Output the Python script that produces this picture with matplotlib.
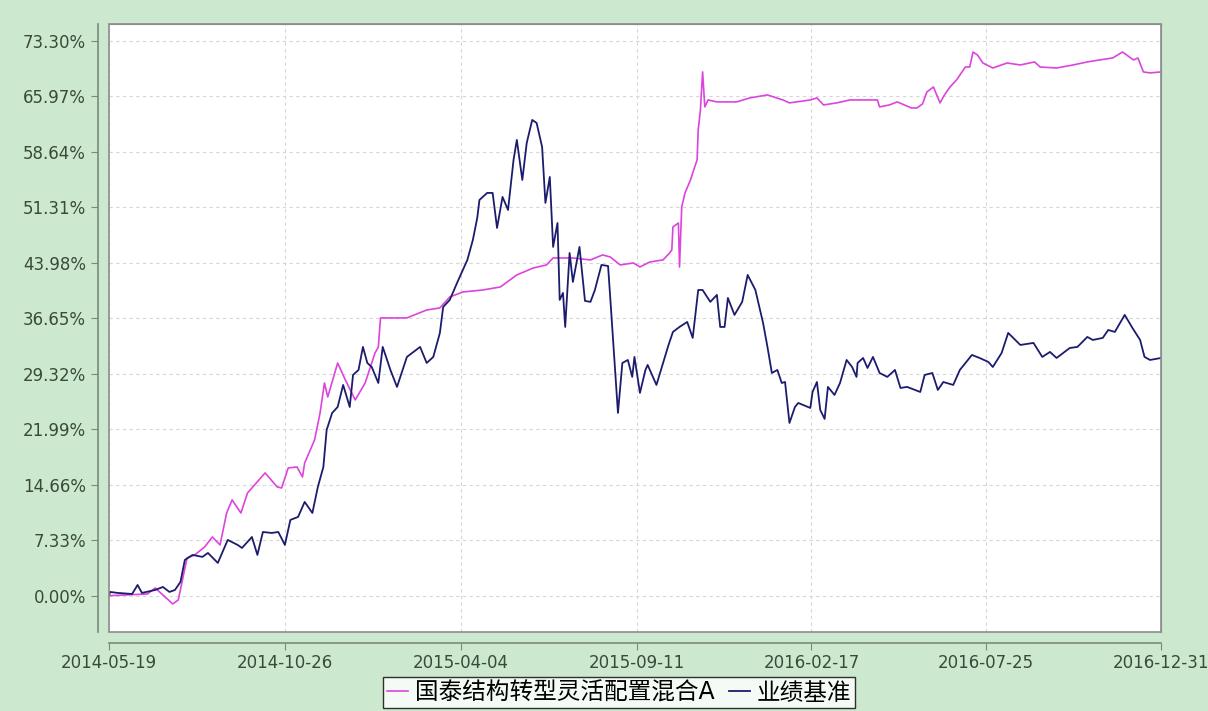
import numpy as np
import pandas as pd
import matplotlib
matplotlib.use('Agg')
import matplotlib.pyplot as plt
import matplotlib.dates as mdates
from matplotlib.patches import Rectangle

plt.rcParams['font.family'] = ['DejaVu Sans', 'Noto Sans CJK SC']

start = pd.Timestamp('2014-05-19')
end = pd.Timestamp('2016-12-31')

# days since 2014-05-19 and cumulative return (%)
fund_days = [0, 35, 42, 51, 58, 63, 71, 78, 87, 94, 101, 107, 112, 120, 126, 142, 153, 157,
             163, 171, 176, 178, 187, 192, 196, 199, 208, 215, 224, 233, 239, 242, 245, 247,
             253, 271, 289, 301, 310, 322, 340, 356, 371, 386, 398, 404, 422, 438, 449, 456,
             465, 477, 483, 492, 504, 510, 512, 513, 518, 519, 521, 524, 529, 531, 535, 536,
             538, 540, 542, 545, 553, 571, 583, 599, 613, 619, 638, 644, 650, 662, 674, 686,
             699, 701, 710, 717, 730, 735, 740, 744, 750, 756, 760, 765, 771, 779, 783, 786,
             790, 795, 804, 817, 829, 842, 847, 862, 877, 890, 901, 913, 922, 932, 936, 941,
             947, 957]
fund_vals = [0.0, 0.22, 1.02, -0.17, -1.09, -0.57, 4.98, 5.38, 6.43, 7.75, 6.70, 10.92, 12.64,
             10.92, 13.56, 16.21, 14.36, 14.22, 16.86, 17.00, 15.68, 17.53, 20.56, 24.13, 28.09,
             26.24, 30.73, 28.49, 25.85, 28.09, 30.73, 32.05, 32.85, 36.68, 36.68, 36.68, 37.73,
             38.00, 39.45, 40.11, 40.37, 40.77, 42.36, 43.28, 43.68, 44.60, 44.60, 44.34, 45.00,
             44.73, 43.68, 43.94, 43.41, 44.07, 44.34, 45.26, 45.66, 48.70, 49.22, 43.41, 51.34,
             53.19, 54.91, 55.83, 57.55, 61.51, 64.15, 69.17, 64.55, 65.47, 65.21, 65.21, 65.74,
             66.13, 65.47, 65.08, 65.47, 65.74, 64.81, 65.08, 65.47, 65.47, 65.47, 64.55, 64.81,
             65.21, 64.41, 64.41, 64.94, 66.52, 67.18, 65.08, 66.13, 67.18, 68.11, 69.82, 69.82,
             71.80, 71.41, 70.35, 69.69, 70.35, 70.09, 70.49, 69.82, 69.69, 70.09, 70.49, 70.75,
             71.01, 71.80, 70.75, 71.01, 69.17, 69.04, 69.17]

bench_days = [0, 1, 8, 21, 26, 30, 42, 49, 55, 60, 65, 69, 76, 85, 90, 99, 108, 117, 121, 130,
              135, 140, 148, 154, 160, 165, 172, 178, 185, 190, 195, 198, 203, 208, 213, 219,
              222, 227, 231, 235, 239, 245, 249, 256, 262, 271, 283, 289, 295, 301, 304, 310,
              317, 326, 331, 335, 337, 344, 349, 353, 358, 363, 368, 371, 376, 380, 385, 389,
              394, 397, 401, 404, 408, 410, 413, 415, 419, 422, 428, 433, 438, 442, 448, 454,
              456, 463, 467, 472, 476, 478, 483, 488, 490, 498, 509, 513, 519, 526, 531, 536,
              540, 547, 553, 556, 560, 563, 569, 576, 581, 588, 595, 599, 603, 608, 612, 615,
              619, 624, 627, 638, 640, 644, 647, 651, 654, 660, 665, 671, 676, 680, 681, 686,
              690, 695, 701, 708, 715, 720, 726, 738, 742, 749, 754, 759, 768, 774, 785, 792,
              800, 804, 812, 818, 829, 841, 849, 856, 862, 874, 881, 890, 895, 904, 909, 915,
              924, 931, 938, 942, 947, 957]
bench_vals = [0.0, 0.49, 0.36, 0.22, 1.41, 0.36, 0.75, 1.15, 0.49, 0.75, 1.81, 4.72, 5.38, 5.12,
              5.64, 4.32, 7.36, 6.70, 6.30, 7.75, 5.38, 8.41, 8.28, 8.41, 6.70, 10.00, 10.40,
              12.38, 10.92, 14.36, 17.00, 21.89, 24.13, 24.92, 27.83, 24.92, 29.15, 29.81, 32.85,
              30.73, 30.20, 28.09, 32.85, 29.81, 27.57, 31.53, 32.85, 30.73, 31.53, 34.70, 38.13,
              39.06, 41.43, 44.34, 46.98, 49.89, 52.26, 53.19, 53.19, 48.56, 52.66, 50.94, 57.54,
              60.19, 54.90, 59.79, 62.83, 62.43, 59.26, 51.87, 55.30, 46.06, 49.22, 39.06, 39.98,
              35.49, 45.26, 41.43, 46.06, 38.93, 38.80, 40.37, 43.68, 43.54, 39.32, 24.13, 30.73,
              31.13, 28.89, 31.53, 26.78, 29.81, 30.47, 27.83, 33.11, 34.83, 35.49, 36.15, 34.04,
              40.37, 40.37, 38.80, 39.72, 35.49, 35.49, 39.32, 37.08, 38.80, 42.36, 40.37, 36.02,
              32.85, 29.41, 29.81, 28.09, 28.22, 22.81, 24.92, 25.45, 24.79, 26.90, 28.22, 24.53,
              23.34, 27.57, 26.51, 28.09, 31.13, 30.20, 28.89, 30.73, 31.39, 30.07, 31.53, 29.41,
              28.89, 29.81, 27.43, 27.57, 26.90, 29.15, 29.41, 27.17, 28.22, 27.83, 29.81, 31.79,
              31.39, 30.86, 30.20, 32.05, 34.70, 33.11, 33.38, 31.53, 32.19, 31.39, 32.71, 32.85,
              34.17, 33.77, 34.04, 35.09, 34.83, 37.08, 35.36, 33.77, 31.53, 31.13, 31.39]

y_ticks = [0.00, 7.33, 14.66, 21.99, 29.32, 36.65, 43.98, 51.31, 58.64, 65.97, 73.30]
x_ticks = ['2014-05-19', '2014-10-26', '2015-04-04', '2015-09-11', '2016-02-17', '2016-07-25', '2016-12-31']

fund_names = ['国泰结构转型灵活配置混合A', '业绩基准']

bg = '#CCE8CF'
fund_x = start + pd.to_timedelta(fund_days, unit='D')
bench_x = start + pd.to_timedelta(bench_days, unit='D')

fig = plt.figure(figsize=(12.08, 7.11), dpi=100, facecolor=bg)
ax = fig.add_axes([109/1208, 1-632/711, (1161-109)/1208, (632-24)/711])
ax.set_facecolor('white')

ax.plot(fund_x, fund_vals, color='#DD44DD', lw=1.2, label=fund_names[0])
ax.plot(bench_x, bench_vals, color='#1C1C6E', lw=1.3, label=fund_names[1])

ax.set_xlim(start, end)
ax.set_ylim(-4.8, 75.5)
ax.set_yticks(y_ticks)
ax.set_yticklabels(['%.2f%%' % v for v in y_ticks])
ax.set_xticks(pd.to_datetime(x_ticks))
ax.set_xticklabels(x_ticks)

ax.grid(True, color='#D6D6D6', linestyle=(0, (3, 3)), linewidth=0.8)

for s in ['top', 'right']:
    ax.spines[s].set_color('#8C8C8C')
for s in ['left', 'bottom']:
    ax.spines[s].set_position(('outward', 8))
    ax.spines[s].set_color('#7A8A7A')
    ax.spines[s].set_linewidth(1.2)
ax.add_patch(Rectangle((0, 0), 1, 1, transform=ax.transAxes, fill=False,
                       edgecolor='#8C8C8C', lw=1.2, clip_on=False, zorder=5))

ax.tick_params(axis='both', direction='out', length=5, color='#7A8A7A',
               labelcolor='#3A4A3A', labelsize=12)
ax.tick_params(axis='x', pad=3)

leg = fig.legend(loc='upper center', bbox_to_anchor=(619/1208, 1-677/711), ncol=2,
                 fontsize=17, frameon=True, fancybox=False, handlelength=0.9,
                 handletextpad=0.3, columnspacing=0.6, borderpad=0.15, borderaxespad=0)
leg.get_frame().set_edgecolor('black')
leg.get_frame().set_linewidth(1.0)
leg.get_frame().set_facecolor('white')

fig.savefig('out.png', dpi=100, facecolor=bg)
